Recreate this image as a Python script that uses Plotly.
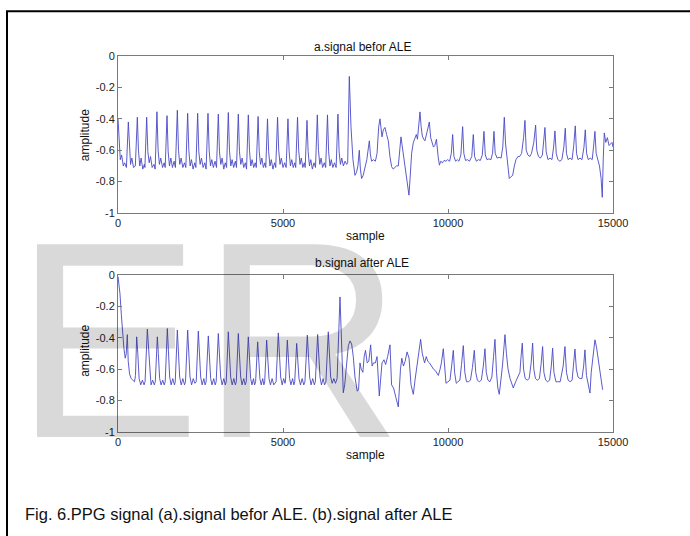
import plotly.graph_objects as go

# ---- data (sample index, amplitude) ----
sig_a_x = [0, 30, 70, 110, 160, 200, 245,
           255, 313, 345, 380, 420, 470, 525,
           586, 620, 660, 700, 750, 800, 815,
           869, 905, 945, 985, 1035, 1090, 1125,
           1180, 1215, 1255, 1295, 1350, 1400, 1430,
           1485, 1520, 1560, 1600, 1650, 1700, 1740,
           1798, 1833, 1873, 1913, 1965, 2015, 2055,
           2111, 2146, 2186, 2226, 2275, 2325, 2360,
           2414, 2449, 2489, 2529, 2580, 2630, 2670,
           2727, 2762, 2802, 2842, 2890, 2940, 2985,
           3040, 3075, 3115, 3155, 3205, 3250, 3290,
           3343, 3378, 3418, 3458, 3505, 3555, 3590,
           3646, 3681, 3721, 3761, 3810, 3860, 3895,
           3949, 3984, 4024, 4064, 4112, 4160, 4190,
           4245, 4280, 4320, 4360, 4405, 4450, 4478,
           4530, 4565, 4605, 4645, 4695, 4745, 4780,
           4835, 4870, 4910, 4950, 5000, 5050, 5095,
           5150, 5185, 5225, 5265, 5310, 5355, 5385,
           5440, 5475, 5515, 5555, 5600, 5645, 5672,
           5727, 5762, 5802, 5842, 5890, 5940, 5985,
           6040, 6075, 6115, 6155, 6200, 6250, 6293,
           6348, 6383, 6423, 6463, 6510, 6560, 6610,
           6665, 6700, 6740, 6780, 6830, 6880, 6930,
           6960, 7009, 7060, 7120, 7181, 7230, 7270, 7312, 7345, 7383,
           7430, 7480, 7540, 7590, 7616, 7650, 7686, 7740, 7800, 7850,
           7900, 7939, 7975, 8000, 8040, 8090, 8140, 8191, 8240, 8292,
           8340, 8390, 8440, 8494, 8535, 8575, 8610, 8646, 8690, 8726,
           8780, 8817, 8850, 8898, 8950, 8999, 9040, 9075, 9110, 9151,
           9185, 9222, 9265, 9300, 9370, 9434, 9475, 9520, 9560, 9600,
           9650, 9700, 9740, 9780, 9830, 9880, 9940, 9990, 10050, 10100,
           10141, 10180, 10230, 10280, 10330, 10390, 10444, 10480, 10530, 10590,
           10650, 10720, 10767, 10805, 10860, 10920, 10980, 11040, 11090, 11130,
           11180, 11240, 11300, 11350, 11393, 11430, 11490, 11550, 11610, 11660,
           11706, 11745, 11790, 11857, 11900, 11960, 12010, 12060, 12120, 12170,
           12230, 12290, 12332, 12370, 12420, 12480, 12530, 12600, 12655, 12690,
           12740, 12800, 12860, 12900, 12938, 12975, 13030, 13090, 13150, 13200,
           13241, 13280, 13330, 13390, 13450, 13510, 13554, 13590, 13640, 13700,
           13760, 13810, 13857, 13895, 13940, 14000, 14060, 14120, 14160, 14200,
           14250, 14310, 14370, 14410, 14453, 14490, 14540, 14590, 14640, 14675,
           14705, 14736, 14780, 14830, 14880, 14929, 14970, 15000]
sig_a_y = [-0.40, -0.56, -0.66, -0.63, -0.70, -0.68, -0.71,
           -0.71, -0.42, -0.60, -0.69, -0.65, -0.71, -0.70,
           -0.39, -0.60, -0.70, -0.65, -0.72, -0.69, -0.71,
           -0.39, -0.61, -0.68, -0.64, -0.71, -0.69, -0.72,
           -0.355, -0.60, -0.69, -0.65, -0.71, -0.68, -0.71,
           -0.38, -0.61, -0.70, -0.65, -0.71, -0.67, -0.71,
           -0.345, -0.60, -0.69, -0.65, -0.71, -0.68, -0.71,
           -0.365, -0.60, -0.70, -0.66, -0.72, -0.68, -0.71,
           -0.365, -0.61, -0.69, -0.65, -0.71, -0.68, -0.72,
           -0.365, -0.60, -0.70, -0.66, -0.71, -0.67, -0.71,
           -0.37, -0.61, -0.69, -0.65, -0.72, -0.68, -0.71,
           -0.36, -0.60, -0.70, -0.66, -0.71, -0.67, -0.71,
           -0.37, -0.61, -0.69, -0.65, -0.71, -0.68, -0.72,
           -0.375, -0.60, -0.70, -0.66, -0.71, -0.68, -0.71,
           -0.385, -0.61, -0.69, -0.65, -0.71, -0.68, -0.71,
           -0.40, -0.61, -0.70, -0.66, -0.72, -0.68, -0.71,
           -0.39, -0.60, -0.69, -0.65, -0.71, -0.68, -0.71,
           -0.40, -0.61, -0.70, -0.66, -0.71, -0.68, -0.71,
           -0.39, -0.60, -0.69, -0.65, -0.71, -0.68, -0.71,
           -0.41, -0.61, -0.70, -0.66, -0.72, -0.68, -0.71,
           -0.375, -0.60, -0.69, -0.65, -0.71, -0.68, -0.71,
           -0.375, -0.61, -0.70, -0.66, -0.71, -0.68, -0.71,
           -0.37, -0.61, -0.69, -0.65, -0.70, -0.67, -0.69,
           -0.68, -0.13, -0.45, -0.66, -0.76, -0.74, -0.70, -0.60, -0.72, -0.78,
           -0.76, -0.72, -0.66, -0.58, -0.54, -0.63, -0.67, -0.66, -0.67, -0.62,
           -0.45, -0.40, -0.48, -0.515, -0.47, -0.455, -0.50, -0.54, -0.64, -0.705,
           -0.72, -0.71, -0.70, -0.70, -0.62, -0.515, -0.57, -0.62, -0.70, -0.76,
           -0.82, -0.886, -0.78, -0.62, -0.55, -0.515, -0.50, -0.53, -0.44, -0.356,
           -0.45, -0.51, -0.53, -0.54, -0.48, -0.42, -0.52, -0.56, -0.58, -0.57,
           -0.53, -0.64, -0.695, -0.67, -0.68, -0.665, -0.67, -0.66, -0.67, -0.62,
           -0.50, -0.64, -0.67, -0.66, -0.67, -0.63, -0.45, -0.62, -0.665, -0.66,
           -0.67, -0.64, -0.50, -0.64, -0.67, -0.66, -0.665, -0.63, -0.48, -0.63,
           -0.66, -0.655, -0.66, -0.62, -0.48, -0.62, -0.65, -0.645, -0.65, -0.58,
           -0.39, -0.56, -0.66, -0.78, -0.77, -0.76, -0.70, -0.66, -0.64, -0.64,
           -0.62, -0.52, -0.41, -0.60, -0.63, -0.64, -0.62, -0.55, -0.44, -0.60,
           -0.64, -0.65, -0.63, -0.55, -0.455, -0.61, -0.66, -0.65, -0.66, -0.58,
           -0.477, -0.62, -0.66, -0.67, -0.66, -0.58, -0.46, -0.62, -0.66, -0.65,
           -0.66, -0.57, -0.445, -0.62, -0.66, -0.65, -0.66, -0.58, -0.47, -0.62,
           -0.66, -0.65, -0.66, -0.58, -0.48, -0.62, -0.67, -0.70, -0.78, -0.90,
           -0.65, -0.49, -0.55, -0.52, -0.57, -0.56, -0.55, -0.58]

sig_b_x = [0, 30, 60, 100, 140, 180, 220, 250, 282, 310, 350, 400, 450, 500, 530,
           566, 600, 640, 690, 740, 790, 820,
           889, 920, 960, 1000, 1050, 1100, 1130,
           1192, 1222, 1262, 1305, 1355, 1400, 1430,
           1495, 1526, 1566, 1610, 1660, 1710, 1735,
           1798, 1829, 1869, 1915, 1965, 2015, 2045,
           2111, 2142, 2182, 2230, 2280, 2330, 2370,
           2434, 2465, 2505, 2550, 2600, 2640, 2670,
           2737, 2768, 2808, 2850, 2900, 2945, 2975,
           3040, 3071, 3111, 3155, 3205, 3250, 3280,
           3343, 3374, 3414, 3460, 3510, 3555, 3585,
           3646, 3677, 3717, 3760, 3810, 3855, 3885,
           3949, 3980, 4020, 4060, 4105, 4140, 4170,
           4232, 4263, 4300, 4340, 4385, 4420, 4445,
           4505, 4536, 4576, 4620, 4670, 4720, 4790,
           4858, 4889, 4929, 4975, 5020, 5060, 5075,
           5131, 5162, 5200, 5240, 5290, 5330, 5355,
           5414, 5445, 5485, 5530, 5580, 5630, 5665,
           5737, 5768, 5808, 5850, 5900, 5950, 5980,
           6050, 6081, 6121, 6165, 6215, 6260, 6300,
           6373, 6404, 6444, 6490, 6540, 6590, 6640,
           6727, 6760, 6790, 6827, 6870, 6930, 6980, 7030, 7080, 7130,
           7180, 7251, 7290, 7333, 7370, 7420, 7460, 7500, 7550, 7600,
           7656, 7700, 7740, 7800, 7850, 7918, 7960, 8000, 8060, 8110,
           8170, 8242, 8290, 8350, 8420, 8494, 8560, 8600, 8650, 8700,
           8760, 8820, 8880, 8949, 9000, 9060, 9110, 9171, 9220, 9290,
           9340, 9390, 9440, 9500, 9560, 9620, 9707, 9760, 9800, 9858,
           9900, 9939, 10000, 10060, 10110, 10161, 10200, 10250, 10300, 10360,
           10410, 10464, 10510, 10560, 10620, 10680, 10740, 10797, 10840, 10890,
           10950, 11010, 11070, 11120, 11160, 11210, 11270, 11330, 11380, 11423,
           11470, 11510, 11554, 11600, 11650, 11700, 11726, 11770, 11820, 11880,
           11979, 12050, 12120, 12180, 12210, 12251, 12290, 12340, 12400, 12460,
           12520, 12564, 12600, 12650, 12710, 12770, 12820, 12867, 12905, 12960,
           13020, 13080, 13130, 13170, 13210, 13270, 13330, 13400, 13490, 13544,
           13590, 13640, 13700, 13760, 13800, 13847, 13890, 13940, 14000, 14060,
           14110, 14150, 14195, 14250, 14302, 14340, 14400, 14453, 14500, 14560,
           14620, 14685]
sig_b_y = [-0.01, -0.05, -0.12, -0.25, -0.38, -0.47, -0.53, -0.50, -0.38, -0.55, -0.63, -0.66, -0.67, -0.68, -0.64,
           -0.394, -0.50, -0.66, -0.70, -0.67, -0.70, -0.68,
           -0.345, -0.45, -0.64, -0.70, -0.67, -0.70, -0.68,
           -0.394, -0.50, -0.66, -0.70, -0.67, -0.70, -0.68,
           -0.341, -0.45, -0.65, -0.70, -0.66, -0.70, -0.68,
           -0.351, -0.46, -0.65, -0.70, -0.66, -0.70, -0.68,
           -0.351, -0.46, -0.65, -0.70, -0.66, -0.69, -0.68,
           -0.358, -0.47, -0.65, -0.70, -0.66, -0.70, -0.68,
           -0.388, -0.49, -0.66, -0.70, -0.66, -0.70, -0.68,
           -0.373, -0.48, -0.65, -0.70, -0.66, -0.70, -0.68,
           -0.362, -0.47, -0.65, -0.70, -0.66, -0.70, -0.68,
           -0.373, -0.48, -0.65, -0.70, -0.66, -0.70, -0.68,
           -0.394, -0.50, -0.66, -0.70, -0.66, -0.70, -0.68,
           -0.426, -0.52, -0.66, -0.70, -0.66, -0.70, -0.68,
           -0.415, -0.51, -0.66, -0.70, -0.66, -0.70, -0.68,
           -0.369, -0.48, -0.65, -0.70, -0.66, -0.69, -0.68,
           -0.415, -0.51, -0.66, -0.70, -0.66, -0.70, -0.68,
           -0.436, -0.53, -0.66, -0.70, -0.66, -0.70, -0.68,
           -0.383, -0.49, -0.65, -0.70, -0.66, -0.70, -0.68,
           -0.379, -0.49, -0.65, -0.70, -0.66, -0.70, -0.68,
           -0.362, -0.47, -0.65, -0.69, -0.66, -0.69, -0.66,
           -0.14, -0.35, -0.62, -0.75, -0.70, -0.55, -0.45, -0.42, -0.44, -0.52,
           -0.65, -0.74, -0.73, -0.56, -0.60, -0.62, -0.52, -0.48, -0.56, -0.55,
           -0.445, -0.58, -0.56, -0.56, -0.52, -0.77, -0.66, -0.56, -0.54, -0.57,
           -0.52, -0.445, -0.70, -0.72, -0.78, -0.84, -0.60, -0.53, -0.58, -0.55,
           -0.49, -0.53, -0.70, -0.76, -0.67, -0.58, -0.48, -0.41, -0.50, -0.56,
           -0.52, -0.55, -0.56, -0.58, -0.60, -0.61, -0.64, -0.60, -0.56, -0.47,
           -0.62, -0.69, -0.68, -0.67, -0.58, -0.48, -0.62, -0.69, -0.68, -0.67,
           -0.57, -0.45, -0.62, -0.68, -0.68, -0.67, -0.59, -0.48, -0.62, -0.67,
           -0.68, -0.67, -0.58, -0.47, -0.62, -0.67, -0.68, -0.65, -0.52, -0.41,
           -0.62, -0.72, -0.76, -0.68, -0.58, -0.45, -0.38, -0.50, -0.60, -0.66,
           -0.72, -0.68, -0.65, -0.62, -0.53, -0.434, -0.60, -0.66, -0.67, -0.66,
           -0.56, -0.434, -0.60, -0.66, -0.67, -0.66, -0.57, -0.456, -0.62, -0.67,
           -0.68, -0.67, -0.58, -0.466, -0.62, -0.68, -0.68, -0.68, -0.58, -0.456,
           -0.62, -0.67, -0.68, -0.67, -0.58, -0.472, -0.60, -0.65, -0.66, -0.66,
           -0.58, -0.477, -0.64, -0.70, -0.752, -0.62, -0.50, -0.413, -0.46, -0.55,
           -0.65, -0.731]

x_ticks = [0, 5000, 10000, 15000]
x_tick_text = ["0", "5000", "10000", "15000"]
y_ticks = [-1, -0.8, -0.6, -0.4, -0.2, 0]
y_tick_text = ["-1", "-0.8", "-0.6", "-0.4", "-0.2", "0"]

titles = ["a.signal befor ALE", "b.signal after ALE"]
x_label = "sample"
y_label = "amplitude"
caption = "Fig. 6.PPG signal (a).signal befor ALE. (b).signal after ALE"
watermark = "ER"

# ---- figure ----
W, H = 690, 536
L, R, T, B = 118, 77, 55.7, 103.7
PH = H - T - B


def py2paper(py):
    return (H - B - py) / PH


def px2paper(px):
    return (px - L) / (W - L - R)


FONT = "Liberation Sans, Arial, sans-serif"
LINE = "rgb(72,72,196)"
AXC = "#7a7a7a"

fig = go.Figure()
fig.add_trace(go.Scatter(x=sig_a_x, y=sig_a_y, mode="lines",
                         line=dict(color=LINE, width=0.9), xaxis="x", yaxis="y",
                         showlegend=False, hoverinfo="skip"))
fig.add_trace(go.Scatter(x=sig_b_x, y=sig_b_y, mode="lines",
                         line=dict(color=LINE, width=0.9), xaxis="x2", yaxis="y2",
                         showlegend=False, hoverinfo="skip"))

axis_common = dict(showline=True, mirror="ticks", linecolor=AXC, linewidth=1,
                   ticks="inside", ticklen=4, tickcolor=AXC, showgrid=False,
                   zeroline=False, tickfont=dict(family=FONT, size=11, color="#222"))

fig.update_layout(
    width=W, height=H,
    margin=dict(l=L, r=R, t=T, b=B, pad=0),
    paper_bgcolor="white", plot_bgcolor="rgba(0,0,0,0)",
    xaxis=dict(domain=[0, 1], range=[0, 15000], tickvals=x_ticks, ticktext=x_tick_text,
               anchor="y", **axis_common),
    yaxis=dict(domain=[py2paper(213), 1], range=[-1, 0], tickvals=y_ticks,
               ticktext=y_tick_text, anchor="x", **axis_common),
    xaxis2=dict(domain=[0, 1], range=[0, 15000], tickvals=x_ticks, ticktext=x_tick_text,
                anchor="y2", **axis_common),
    yaxis2=dict(domain=[0, py2paper(275)], range=[-1, 0], tickvals=y_ticks,
                ticktext=y_tick_text, anchor="x2", **axis_common),
)

ann = []
for t, py in zip(titles, [47, 263]):
    ann.append(dict(text=t, x=px2paper(362), y=py2paper(py), xref="paper", yref="paper",
                    showarrow=False, xanchor="center", yanchor="middle",
                    font=dict(family=FONT, size=12, color="#111")))
for py in [236, 455]:
    ann.append(dict(text=x_label, x=px2paper(365), y=py2paper(py), xref="paper", yref="paper",
                    showarrow=False, xanchor="center", yanchor="middle",
                    font=dict(family=FONT, size=12, color="#111")))
for py in [135, 351]:
    ann.append(dict(text=y_label, x=px2paper(85), y=py2paper(py), xref="paper", yref="paper",
                    showarrow=False, xanchor="center", yanchor="middle", textangle=-90,
                    font=dict(family=FONT, size=12, color="#111")))
ann.append(dict(text=caption, x=px2paper(23), y=py2paper(514), xref="paper", yref="paper",
                showarrow=False, xanchor="left", yanchor="middle",
                font=dict(family=FONT, size=16.5, color="#111")))
ann.append(dict(text=watermark, x=px2paper(208), y=py2paper(340), xref="paper", yref="paper",
                showarrow=False, xanchor="center", yanchor="middle",
                font=dict(family="Liberation Sans, Arial, sans-serif", size=280,
                          color="rgba(0,0,0,0.15)")))
fig.update_layout(annotations=ann)

fig.add_shape(type="rect", xref="paper", yref="paper",
              x0=px2paper(7), x1=px2paper(720), y0=py2paper(560), y1=py2paper(11),
              line=dict(color="black", width=2), fillcolor="rgba(0,0,0,0)", layer="above")

fig.write_html("out.html", config={"displayModeBar": False},
               post_script="document.body.style.margin='0px';")
